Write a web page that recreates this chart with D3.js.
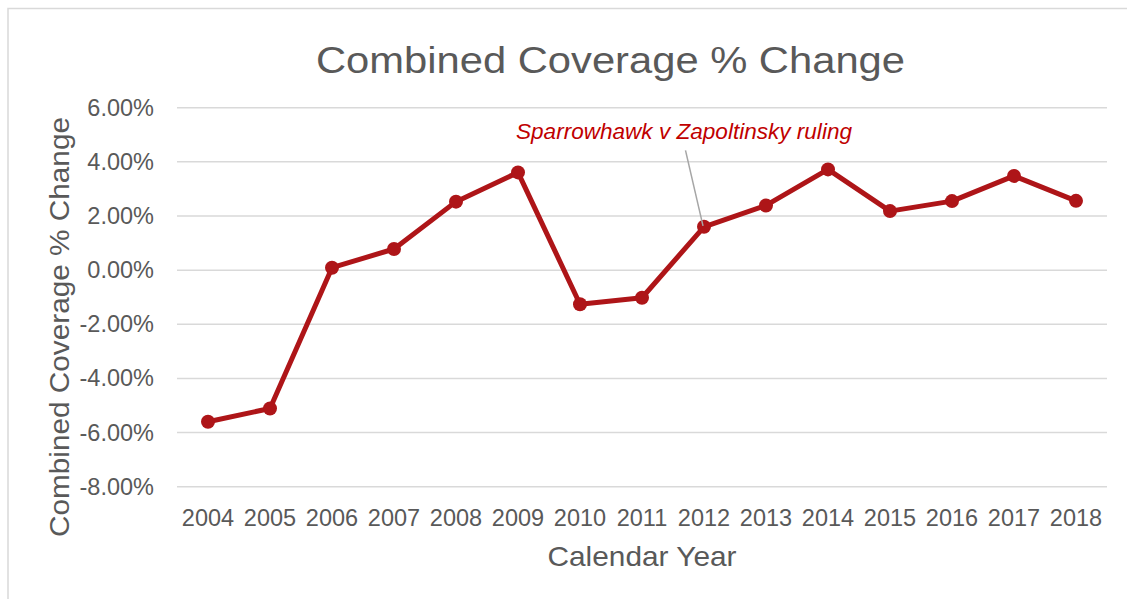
<!DOCTYPE html>
<html>
<head>
<meta charset="utf-8">
<script src="https://cdn.jsdelivr.net/npm/d3@7"></script>
<style>
  html, body { margin: 0; padding: 0; background: #ffffff; }
  svg { display: block; }
  text { font-family: "Liberation Sans", Arial, sans-serif; fill: #595959; }
</style>
</head>
<body>
<svg id="chart" width="1127" height="599"></svg>
<script>
// ---- data ----
const years = ["2004","2005","2006","2007","2008","2009","2010","2011","2012","2013","2014","2015","2016","2017","2018"];
const changePct = [-5.60, -5.11, 0.09, 0.78, 2.53, 3.61, -1.26, -1.02, 1.60, 2.39, 3.72, 2.18, 2.55, 3.48, 2.56];
const yTicks = [-8, -6, -4, -2, 0, 2, 4, 6];
const chartTitle = "Combined Coverage % Change";
const yAxisTitle = "Combined Coverage % Change";
const xAxisTitle = "Calendar Year";
const annotationYear = "2012";
const annotationText = "Sparrowhawk v Zapoltinsky ruling";

// ---- layout ----
const svg = d3.select("#chart");
const plot = { left: 177, right: 1107, top: 107.7, bottom: 486.7 };
const lineColor = "#ae1518";
const gridColor = "#d9d9d9";

const x = d3.scaleBand().domain(years).range([plot.left, plot.right]);
const y = d3.scaleLinear().domain([-8, 6]).range([plot.bottom, plot.top]);

// outer border (extends beyond right/bottom of picture)
svg.append("rect")
  .attr("x", 8).attr("y", 8.5).attr("width", 1140).attr("height", 620)
  .attr("fill", "none").attr("stroke", gridColor).attr("stroke-width", 1.5);

// title
svg.append("text")
  .attr("x", (316 + 905) / 2).attr("y", 73)
  .attr("text-anchor", "middle")
  .attr("font-size", 36)
  .attr("textLength", 589).attr("lengthAdjust", "spacingAndGlyphs")
  .text(chartTitle);

// gridlines
svg.append("g")
  .selectAll("line")
  .data(yTicks)
  .join("line")
  .attr("x1", plot.left).attr("x2", plot.right)
  .attr("y1", d => y(d)).attr("y2", d => y(d))
  .attr("stroke", gridColor).attr("stroke-width", 1.5);

// y axis
const yAxis = svg.append("g")
  .attr("transform", `translate(${plot.left},0)`)
  .call(d3.axisLeft(y).tickValues(yTicks).tickSize(0).tickPadding(23)
    .tickFormat(d => d.toFixed(2) + "%"));
yAxis.select(".domain").remove();
yAxis.selectAll("text")
  .attr("font-size", 23.5)
  .attr("font-family", "Liberation Sans, Arial, sans-serif")
  .attr("fill", "#595959");

// x axis
const xAxis = svg.append("g")
  .attr("transform", `translate(0,${plot.bottom})`)
  .call(d3.axisBottom(x).tickSize(0).tickPadding(0));
xAxis.select(".domain").remove();
xAxis.selectAll("text")
  .attr("dy", null)
  .attr("y", 526 - plot.bottom)
  .attr("font-size", 23.5)
  .attr("font-family", "Liberation Sans, Arial, sans-serif")
  .attr("fill", "#595959");

// axis titles
svg.append("text")
  .attr("transform", `translate(69,327) rotate(-90)`)
  .attr("text-anchor", "middle")
  .attr("font-size", 28)
  .attr("textLength", 420).attr("lengthAdjust", "spacingAndGlyphs")
  .text(yAxisTitle);

svg.append("text")
  .attr("x", (plot.left + plot.right) / 2).attr("y", 566)
  .attr("text-anchor", "middle")
  .attr("font-size", 28)
  .attr("textLength", 189).attr("lengthAdjust", "spacingAndGlyphs")
  .text(xAxisTitle);

// line + markers
const cx = d => x(d) + x.bandwidth() / 2;
const pts = years.map((yr, i) => ({ yr, v: changePct[i] }));
svg.append("path")
  .datum(pts)
  .attr("fill", "none")
  .attr("stroke", lineColor)
  .attr("stroke-width", 5)
  .attr("stroke-linejoin", "round")
  .attr("d", d3.line().x(d => cx(d.yr)).y(d => y(d.v)));

svg.append("g")
  .selectAll("circle")
  .data(pts)
  .join("circle")
  .attr("cx", d => cx(d.yr)).attr("cy", d => y(d.v))
  .attr("r", 7)
  .attr("fill", lineColor);

// annotation
const ai = years.indexOf(annotationYear);
const ax = cx(annotationYear), ay = y(changePct[ai]);
svg.append("line")
  .attr("x1", ax - 18.5).attr("y1", ay - 76.5)
  .attr("x2", ax - 1).attr("y2", ay - 1)
  .attr("stroke", "#a6a6a6").attr("stroke-width", 1.5);
svg.append("text")
  .attr("x", 516).attr("y", 139)
  .attr("font-size", 22)
  .attr("font-style", "italic")
  .attr("textLength", 336).attr("lengthAdjust", "spacingAndGlyphs")
  .style("fill", "#c00000")
  .text(annotationText);
</script>
</body>
</html>
